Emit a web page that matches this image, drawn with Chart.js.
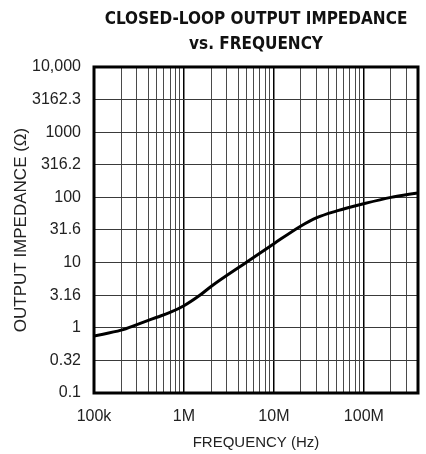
<!DOCTYPE html>
<html>
<head>
<meta charset="utf-8">
<script src="https://cdn.jsdelivr.net/npm/chart.js@4"></script>
<style>
  html, body { margin: 0; padding: 0; background: #fff; }
  #wrap { width: 426px; height: 454px; }
</style>
</head>
<body>
<div id="wrap"><canvas id="chart1" width="426" height="454"></canvas></div>
<script>
// closed-loop output impedance
const freqHz = [1e5, 2e5, 3e5, 5e5, 7e5, 1e6, 1.5e6, 2e6, 5e6, 1e7, 2e7, 3e7, 5e7, 1e8, 2e8, 4e8];
const impedanceOhm = [0.75, 0.92, 1.12, 1.45, 1.72, 2.18, 3.15, 4.3, 10.2, 19.5, 36.5, 49, 62, 80, 100, 117];

const xTickValues = [1e5, 1e6, 1e7, 1e8];
const xTickLabels = ['100k', '1M', '10M', '100M'];
const yTickValues = [0.1, 0.316, 1, 3.162, 10, 31.62, 100, 316.2, 1000, 3162.3, 10000];
const yTickLabels = ['0.1', '0.32', '1', '3.16', '10', '31.6', '100', '316.2', '1000', '3162.3', '10,000'];

const X_MIN = 1e5, X_MAX = 4e8;

const frameBox = {
    id: 'frameBox',
    afterDraw(chart) {
        const { ctx, chartArea: a } = chart;
        ctx.save();
        ctx.strokeStyle = '#000';
        ctx.lineWidth = 3;
        ctx.strokeRect(a.left, a.top, a.right - a.left, a.bottom - a.top);
        ctx.restore();
    }
};

const ctx1 = document.getElementById('chart1');
new Chart(ctx1, {
    type: 'line',
    data: {
        datasets: [{
            data: freqHz.map((f, i) => ({ x: f, y: impedanceOhm[i] })),
            borderColor: '#000',
            borderWidth: 3,
            pointRadius: 0,
            cubicInterpolationMode: 'monotone',
            fill: false,
        }],
    },
    options: {
        responsive: false,
        animation: false,
        layout: { padding: { left: 0, right: 8, top: 0, bottom: 0 } },
        plugins: {
            legend: { display: false },
            tooltip: { enabled: false },
            title: {
                display: true,
                fullSize: false,
                text: ['CLOSED-LOOP OUTPUT IMPEDANCE', 'vs. FREQUENCY'],
                color: '#111',
                font: { family: '"DejaVu Sans Condensed", sans-serif', size: 17, weight: 'bold', lineHeight: 1.47 },
                padding: { top: 7, bottom: 10 },
            },
        },
        scales: {
            x: {
                type: 'logarithmic',
                min: X_MIN,
                max: X_MAX,
                afterBuildTicks: (scale) => {
                    const t = [];
                    for (let dec = 1e5; dec <= 1e8; dec *= 10) {
                        for (let m = 1; m <= 9; m++) {
                            const v = m * dec;
                            if (v <= X_MAX) t.push({ value: v });
                        }
                    }
                    scale.ticks = t;
                },
                afterFit: (scale) => {
                    scale.height = 61;
                    scale.paddingLeft = 0;
                    scale.paddingRight = 0;
                },
                grid: {
                    color: (c) => xTickValues.includes(c.tick && c.tick.value) ? '#000' : '#4a4a4a',
                    lineWidth: (c) => xTickValues.includes(c.tick && c.tick.value) ? 1.5 : 1,
                    drawTicks: false,
                },
                border: { display: false },
                ticks: {
                    autoSkip: false,
                    maxRotation: 0,
                    padding: 14,
                    color: '#222',
                    font: { family: '"Liberation Sans", Arial, sans-serif', size: 16 },
                    callback: (value) => {
                        const i = xTickValues.indexOf(value);
                        return i >= 0 ? xTickLabels[i] : '';
                    },
                },
                title: {
                    display: true,
                    text: 'FREQUENCY (Hz)',
                    color: '#222',
                    font: { family: '"Liberation Sans", Arial, sans-serif', size: 15 },
                    padding: { top: 0, bottom: 2 },
                },
            },
            y: {
                type: 'logarithmic',
                min: 0.1,
                max: 10000,
                afterBuildTicks: (scale) => {
                    scale.ticks = yTickValues.map(v => ({ value: v }));
                },
                afterFit: (scale) => { scale.width = 94; },
                grid: {
                    color: '#3a3a3a',
                    lineWidth: 1,
                    drawTicks: false,
                },
                border: { display: false },
                ticks: {
                    autoSkip: false,
                    padding: 13,
                    color: '#222',
                    font: { family: '"Liberation Sans", Arial, sans-serif', size: 16 },
                    callback: (value, index) => yTickLabels[index],
                },
                title: {
                    display: true,
                    text: 'OUTPUT IMPEDANCE (Ω)',
                    color: '#222',
                    font: { family: '"Liberation Sans", Arial, sans-serif', size: 17 },
                    padding: { top: 11, bottom: 0 },
                },
            },
        },
    },
    plugins: [frameBox],
});
</script>
</body>
</html>
